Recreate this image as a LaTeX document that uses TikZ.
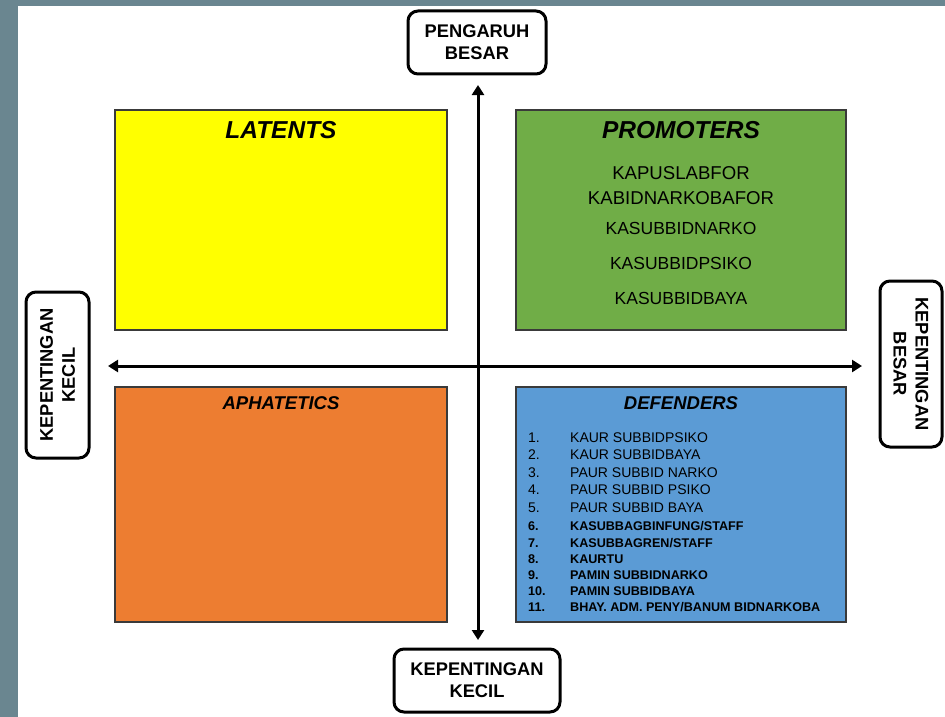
\documentclass[tikz,border=0pt]{standalone}
\usepackage{fontspec}
\setmainfont{Liberation Sans}
\usetikzlibrary{arrows.meta}
\definecolor{framec}{HTML}{6A8690}
\definecolor{qyellow}{HTML}{FFFF00}
\definecolor{qgreen}{HTML}{70AD47}
\definecolor{qorange}{HTML}{ED7D31}
\definecolor{qblue}{HTML}{5B9BD5}
\definecolor{qedge}{HTML}{3A3A3A}
\tikzset{
  quad/.style={draw=qedge, line width=1.2pt, inner sep=0pt},
  axbox/.style={draw=black, line width=3pt, rounded corners=10pt, fill=white, align=center,
    font=\fontsize{18.3}{22}\selectfont\bfseries, inner sep=0pt},
  qtitle/.style={font=\fontsize{18.5}{22}\selectfont\bfseries\itshape},
  btitle/.style={font=\fontsize{24.5}{28}\selectfont\bfseries\itshape},
  pitem/.style={font=\fontsize{18.6}{21}\selectfont},
  pitemb/.style={font=\fontsize{17.5}{21}\selectfont},
  ditem/.style={font=\fontsize{14}{16}\selectfont, anchor=west, inner sep=0pt},
  dbold/.style={font=\fontsize{12.6}{14}\selectfont\bfseries, anchor=west, inner sep=0pt},
  axarrow/.style={line width=3pt, {Triangle[width=12pt,length=10pt]}-{Triangle[width=12pt,length=10pt]}}
}
\begin{document}
\begin{tikzpicture}[x=1pt,y=-1pt]
\useasboundingbox (0,0) rectangle (945,717);
\fill[framec] (0,0) rectangle (945,717);
\fill[white] (18,6) rectangle (945,717);

% quadrants
\node[quad, fill=qyellow, minimum width=332, minimum height=220] (lat) at (281,220) {};
\node[quad, fill=qgreen, minimum width=330, minimum height=220] (pro) at (681,220) {};
\node[quad, fill=qorange, minimum width=332, minimum height=235] (aph) at (281,504.5) {};
\node[quad, fill=qblue, minimum width=330, minimum height=235] (def) at (681,504.5) {};

% axis labels
\node[axbox, minimum width=138, minimum height=63] (top) at (477,42.5) {PENGARUH\\BESAR};
\node[axbox, minimum width=166, minimum height=63] (bot) at (477,680.5) {KEPENTINGAN\\KECIL};
\node[axbox, minimum width=166, minimum height=63, rotate=90] (lft) at (57.5,375) {KEPENTINGAN\\KECIL};
\node[axbox, minimum width=166, minimum height=62, rotate=-90] (rgt) at (911,364) {KEPENTINGAN\\BESAR};

% axes
\coordinate (hl) at (108,366);
\coordinate (hr) at (862,366);
\coordinate (vt) at (478,85);
\coordinate (vb) at (478,640);
\draw[axarrow] (vt) -- (vb);
\draw[axarrow] (hl) -- (hr);

% titles
\node[btitle] (tlat) at (281,130) {LATENTS};
\node[btitle] (tpro) at (681,130) {PROMOTERS};
\node[qtitle] (taph) at (281,403) {APHATETICS};
\node[qtitle] (tdef) at (681,403) {DEFENDERS};

% promoters
\node[pitem] (p1) at (681,173) {KAPUSLABFOR};
\node[pitem] (p2) at (681,198) {KABIDNARKOBAFOR};
\node[pitemb] (p3) at (681,228) {KASUBBIDNARKO};
\node[pitemb] (p4) at (681,263) {KASUBBIDPSIKO};
\node[pitemb] (p5) at (681,298) {KASUBBIDBAYA};

% defenders
\foreach \n/\t/\y in {1/{KAUR SUBBIDPSIKO}/437.5, 2/{KAUR SUBBIDBAYA}/455, 3/{PAUR SUBBID NARKO}/472.5, 4/{PAUR SUBBID PSIKO}/490, 5/{PAUR SUBBID BAYA}/508}{
  \node[ditem] (dn\n) at (528,\y) {\n.};
  \node[ditem] (dt\n) at (570,\y) {\t};
}
\foreach \n/\t/\y in {6/{KASUBBAGBINFUNG/STAFF}/526.5, 7/{KASUBBAGREN/STAFF}/543.5, 8/{KAURTU}/559, 9/{PAMIN SUBBIDNARKO}/575, 10/{PAMIN SUBBIDBAYA}/591, 11/{BHAY. ADM. PENY/BANUM BIDNARKOBA}/607.5}{
  \node[dbold] (dn\n) at (528,\y) {\n.};
  \node[dbold] (dt\n) at (570,\y) {\t};
}
\end{tikzpicture}
\end{document}
